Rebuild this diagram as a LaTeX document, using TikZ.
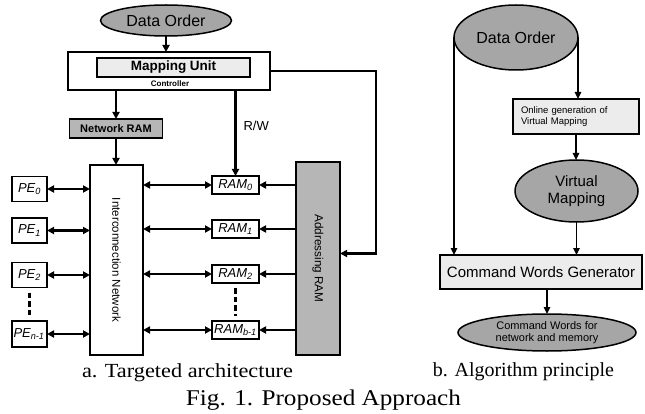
\documentclass[tikz,border=0pt]{standalone}
\usepackage{fontspec}
\usepackage{graphicx}
\setmainfont{Liberation Serif}
\setsansfont{Liberation Sans}
\usetikzlibrary{arrows.meta,shapes.geometric}

\definecolor{ovalgray}{RGB}{166,166,166}
\definecolor{boxgray}{RGB}{182,182,182}
\definecolor{palegray}{RGB}{236,236,236}

\newcommand{\sz}[1]{\fontsize{#1}{#1}\selectfont}

\tikzset{
  every node/.style={inner sep=0pt, outer sep=0pt},
  blk/.style={draw, line width=1.8pt, fill=white, rectangle},
  oval/.style={ellipse, draw, line width=1.5pt, fill=ovalgray},
  lbl/.style={font=\sffamily\itshape\sz{13}},
  arr/.style={line width=2.4pt, -{Triangle[length=7pt,width=7pt]}},
  darr/.style={line width=2.4pt, {Triangle[length=7pt,width=7pt]}-{Triangle[length=7pt,width=7pt]}},
  thinarr/.style={line width=1.5pt, -{Triangle[length=7pt,width=6.5pt]}},
  dashline/.style={line width=2.6pt, dash pattern=on 5.5pt off 3pt},
  caption/.style={anchor=base, font=\rmfamily\sz{20}}
}

\begin{document}
\begin{tikzpicture}[x=1pt,y=-1pt]
\useasboundingbox (0,0) rectangle (645,414);

% ---------- a. targeted architecture ----------
\node[oval, minimum width=131pt, minimum height=31pt, font=\sffamily\sz{16}] (dataL) at (166,20.5) {Data Order};
\node[blk, minimum width=202pt, minimum height=38pt] (ctrl) at (169,71) {};
\node[blk, fill=palegray, minimum width=153pt, minimum height=19pt, font=\sffamily\bfseries\sz{13.5}] (map) at (173.5,67.5) {Mapping Unit};
\node[font=\sffamily\bfseries\sz{8}] (ctrltxt) at (170,84) {Controller};
\node[blk, fill=boxgray, minimum width=93pt, minimum height=19pt, font=\sffamily\bfseries\sz{11}] (netram) at (116,128.5) {Network RAM};
\node[blk, minimum width=53pt, minimum height=190pt] (IN) at (116.5,260) {};
\node[rotate=-90, font=\sffamily\sz{11.5}] (INtxt) at (IN.center) {Interconnection Network};
\node[blk, fill=boxgray, minimum width=44pt, minimum height=193pt] (addr) at (318,258.5) {};
\node[rotate=-90, font=\sffamily\sz{11.7}] (addrtxt) at (addr.center) {Addressing RAM};

% processing elements
\node[blk, lbl, minimum width=35pt, minimum height=25pt] (pe0) at (29.5,189) {PE\textsubscript{0}};
\node[blk, lbl, minimum width=35pt, minimum height=25pt] (pe1) at (29.5,230.5) {PE\textsubscript{1}};
\node[blk, lbl, minimum width=35pt, minimum height=25pt] (pe2) at (29.5,275) {PE\textsubscript{2}};
\node[blk, lbl, minimum width=35pt, minimum height=26pt] (pen) at (29.5,334) {\kern-1pt PE\textsubscript{n-1}};

% memory banks
\node[blk, lbl, minimum width=47pt, minimum height=18pt] (ram0) at (235.5,185) {RAM\textsubscript{0}};
\node[blk, lbl, minimum width=47pt, minimum height=18pt] (ram1) at (235.5,229) {RAM\textsubscript{1}};
\node[blk, lbl, minimum width=47pt, minimum height=18pt] (ram2) at (235.5,274) {RAM\textsubscript{2}};
\node[blk, lbl, minimum width=47pt, minimum height=18pt] (ramb) at (235.5,330) {RAM\textsubscript{b-1}};

\coordinate (bend) at (376,0);

\draw[arr] (dataL.south) -- (dataL.south |- ctrl.north);
\draw[arr] (ctrl.south -| netram) -- (netram.north);
\draw[arr] (netram.south) -- (netram.south |- IN.north);
\draw[arr] (ctrl.south -| ram0) -- node[pos=0.42, right=8pt, font=\sffamily\sz{13}] (rw) {R/W} (ram0.north);
\draw[line width=2.4pt, -{Triangle[length=7pt,width=7pt]}] (ctrl.east) -- (ctrl.east -| bend) |- ([yshift=5pt]addr.east);

\foreach \p in {pe0,pe1,pe2,pen}
  \draw[darr] (\p.east) -- (\p.east -| IN.west);
\foreach \r in {ram0,ram1,ram2,ramb} {
  \draw[darr] (\r.west -| IN.east) -- (\r.west);
  \draw[arr] (\r.east -| addr.west) -- (\r.east);
}
\draw[dashline] ([yshift=-5pt]pe2.south) -- ([yshift=5pt]pen.north);
\draw[dashline] ([yshift=-5pt]ram2.south) -- ([yshift=5pt]ramb.north);

% ---------- b. algorithm principle ----------
\node[oval, minimum width=124pt, minimum height=65pt, font=\sffamily\sz{16}] (dataR) at (516,37.5) {Data Order};
\node[blk, fill=palegray, minimum width=126pt, minimum height=35pt, align=left, text width=110pt, font=\sffamily\sz{9.5}] (online) at (576,116.5) {Online generation of\\[1pt]Virtual Mapping};
\node[oval, minimum width=123pt, minimum height=62pt, align=center, font=\sffamily\sz{15}] (vmap) at (576.5,191) {Virtual\\[2pt]Mapping};
\node[blk, fill=palegray, minimum width=202pt, minimum height=34pt, font=\sffamily\sz{15}] (cwg) at (541,272) {Command Words Generator};
\node[oval, minimum width=178pt, minimum height=37pt, align=center, font=\sffamily\sz{11}] (cw) at (547,332.5) {Command Words for\\[1pt]network and memory};

\draw[thinarr] (dataR.east) -- (dataR.east |- online.north);
\draw[thinarr] (dataR.west) -- (dataR.west |- cwg.north);
\draw[thinarr] (online.south) -- (online.south |- vmap.north);
\draw[thinarr] (vmap.south) -- (vmap.south |- cwg.north);
\draw[thinarr] (cw.north |- cwg.south) -- (cw.north);

% ---------- captions ----------
\node[caption] (capa) at (187.5,377) {\scalebox{1.115}[1]{a. Targeted architecture}};
\node[caption, anchor=base east] (capb) at (614,376) {b. Algorithm principle};
\node[caption, font=\rmfamily\sz{22.5}] (fig) at (323.5,405) {\scalebox{1.12}[1]{Fig. 1. Proposed Approach}};
\end{tikzpicture}
\end{document}
